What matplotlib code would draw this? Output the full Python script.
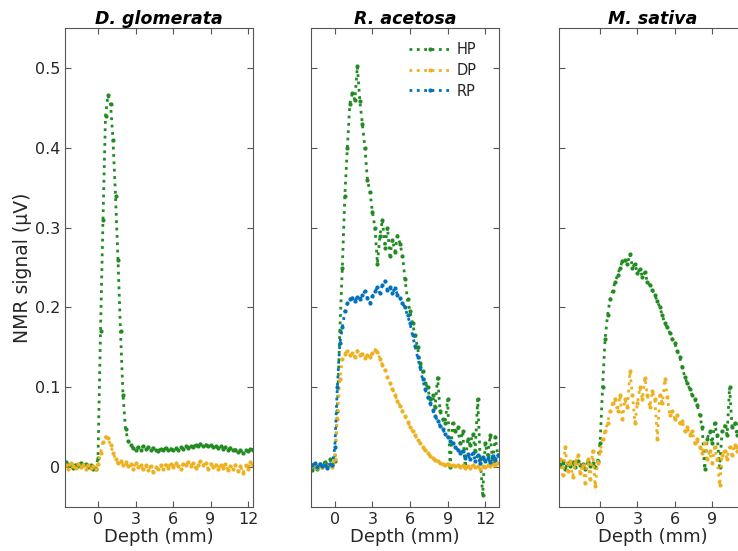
import numpy as np
import matplotlib
matplotlib.use("Agg")
import matplotlib.pyplot as plt

plt.rcParams['font.family'] = ['DejaVu Sans']

titles = ["D. glomerata", "R. acetosa", "M. sativa"]
series_names = ["HP", "DP", "RP"]
colors = {"HP": "#228B22", "DP": "#EDB120", "RP": "#0072BD"}

x_ticks = [0, 3, 6, 9, 12]
y_ticks = [0, 0.1, 0.2, 0.3, 0.4, 0.5]
y_tick_labels = ["0", "0.1", "0.2", "0.3", "0.4", "0.5"]

# Depth grids (mm)
depth_dg = np.round(np.arange(-2.6, 12.41, 0.2), 2)
depth_ra = np.round(np.arange(-1.8, 13.01, 0.2), 2)
depth_ms = np.round(np.arange(-3.2, 11.81, 0.2), 2)

# D. glomerata
dg_hp = [0.006, 0.002, 0.004, -0.001, 0.003, 0.001, 0.005, 0.002, 0.004, 0.000, 0.003, -0.002, -0.003,
         0.012, 0.17, 0.31, 0.44, 0.466, 0.455, 0.41, 0.34, 0.26, 0.17, 0.09, 0.048, 0.033, 0.028,
         0.024, 0.021, 0.025, 0.022, 0.026, 0.023, 0.025, 0.021, 0.024, 0.022, 0.020, 0.023, 0.021,
         0.024, 0.022, 0.023, 0.021, 0.024, 0.022, 0.025, 0.023, 0.026, 0.024, 0.027, 0.025, 0.028,
         0.026, 0.029, 0.027, 0.028, 0.026, 0.028, 0.025, 0.027, 0.024, 0.026, 0.023, 0.025, 0.022,
         0.024, 0.021, 0.022, 0.019, 0.021, 0.018, 0.021, 0.020, 0.023, 0.022]
dg_dp = [0.003, -0.002, 0.005, 0.001, -0.001, 0.004, 0.000, 0.003, -0.002, 0.002, -0.001, 0.001, -0.002,
         0.004, 0.018, 0.032, 0.038, 0.036, 0.028, 0.018, 0.010, 0.005, 0.008, 0.003, 0.006, 0.001, 0.004,
         -0.002, 0.005, 0.000, 0.003, -0.003, 0.002, -0.004, 0.001, -0.006, 0.000, -0.003, 0.002, -0.002,
         0.003, -0.001, 0.004, 0.000, 0.005, 0.001, -0.002, 0.004, 0.002, 0.006, 0.001, 0.005, -0.001,
         0.003, 0.007, 0.002, 0.005, -0.002, 0.004, 0.000, 0.003, -0.003, 0.002, -0.001, 0.004, -0.004,
         0.001, -0.002, 0.003, -0.005, 0.001, -0.008, 0.002, -0.003, 0.006, 0.002]

# R. acetosa
ra_hp = [-0.004, 0.002, -0.002, 0.004, 0.000, 0.006, 0.001, 0.010, 0.003,
         0.008, 0.07, 0.17, 0.25, 0.34, 0.40, 0.455, 0.468, 0.460, 0.502, 0.458, 0.43, 0.40, 0.36,
         0.345, 0.32, 0.30, 0.255, 0.29, 0.31, 0.275, 0.30, 0.265, 0.285, 0.27, 0.29, 0.28, 0.265,
         0.235, 0.21, 0.195, 0.18, 0.165, 0.15, 0.13, 0.12, 0.105, 0.10, 0.085, 0.09, 0.075, 0.112,
         0.07, 0.06, 0.055, 0.085, 0.00, 0.055, 0.045, 0.05, 0.03, 0.045, 0.0, 0.035, 0.028, 0.042,
         0.02, 0.085, 0.01, -0.035, 0.03, 0.015, 0.04, 0.005, 0.038, 0.015]
ra_dp = [0.001, 0.003, -0.001, 0.002, 0.000, 0.003, 0.001, 0.002, 0.000,
         0.01, 0.06, 0.11, 0.135, 0.142, 0.145, 0.14, 0.143, 0.138, 0.146, 0.14, 0.142, 0.137, 0.14,
         0.138, 0.143, 0.147, 0.144, 0.136, 0.128, 0.122, 0.113, 0.105, 0.098, 0.09, 0.083, 0.077,
         0.07, 0.064, 0.057, 0.05, 0.045, 0.04, 0.034, 0.03, 0.025, 0.021, 0.018, 0.014, 0.011,
         0.009, 0.007, 0.005, 0.004, 0.003, 0.004, 0.002, 0.003, 0.001, 0.002, 0.000, 0.002, -0.001,
         0.001, -0.001, 0.002, 0.000, 0.001, -0.002, 0.001, 0.000, 0.003, 0.001, 0.004, 0.002, 0.005]
ra_rp = [0.002, 0.005, 0.000, 0.004, 0.001, 0.003, -0.001, 0.004, 0.002,
         0.025, 0.10, 0.155, 0.175, 0.195, 0.205, 0.21, 0.212, 0.208, 0.213, 0.21, 0.216, 0.22,
         0.212, 0.205, 0.214, 0.22, 0.225, 0.218, 0.228, 0.233, 0.222, 0.226, 0.218, 0.224, 0.216,
         0.212, 0.205, 0.20, 0.19, 0.18, 0.165, 0.152, 0.138, 0.125, 0.11, 0.098, 0.088, 0.08,
         0.072, 0.064, 0.058, 0.052, 0.048, 0.042, 0.038, 0.033, 0.03, 0.025, 0.022, 0.018, 0.02,
         0.012, 0.016, 0.01, 0.018, 0.008, 0.015, 0.005, 0.013, 0.008, 0.012, 0.006, 0.014, 0.009, 0.015]

# M. sativa
ms_hp = [0.002, 0.008, -0.002, 0.005, 0.001, 0.006, 0.000, 0.008, 0.002, 0.004, -0.002, 0.006, 0.001,
         0.005, 0.000, 0.007,
         0.03, 0.10, 0.16, 0.19, 0.21, 0.22, 0.232, 0.24, 0.25, 0.258, 0.26, 0.255, 0.267, 0.25,
         0.255, 0.243, 0.248, 0.238, 0.244, 0.232, 0.228, 0.222, 0.215, 0.208, 0.20, 0.19, 0.18,
         0.175, 0.168, 0.16, 0.155, 0.145, 0.138, 0.125, 0.113, 0.105, 0.098, 0.09, 0.085, 0.078,
         0.065, 0.05, -0.003, 0.035, 0.045, 0.03, 0.055, 0.04, 0.0, 0.045, 0.052, 0.04, 0.10, 0.05,
         0.055, 0.04, 0.06, 0.045, 0.065, 0.05]
ms_dp = [0.01, -0.01, 0.025, -0.005, 0.008, -0.012, 0.005, 0.015, -0.008, 0.003, -0.02, 0.01, -0.015,
         0.02, -0.024, 0.005,
         0.02, 0.035, 0.045, 0.055, 0.07, 0.08, 0.085, 0.07, 0.09, 0.06, 0.085, 0.075, 0.12, 0.09,
         0.055, 0.08, 0.1, 0.085, 0.112, 0.09, 0.075, 0.095, 0.085, 0.035, 0.09, 0.08, 0.11, 0.088,
         0.065, 0.07, 0.06, 0.065, 0.055, 0.058, 0.045, 0.05, 0.04, 0.045, 0.03, 0.035, 0.025, 0.018,
         0.03, 0.01, 0.02, 0.005, 0.025, 0.01, -0.023, 0.015, 0.02, 0.01, 0.025, 0.015, 0.028, 0.02,
         0.03, 0.015, 0.025, 0.02]

panels = [
    (depth_dg, {"HP": dg_hp, "DP": dg_dp}, (-2.64, 12.4), x_ticks),
    (depth_ra, {"HP": ra_hp, "DP": ra_dp, "RP": ra_rp}, (-1.9, 13.1), x_ticks),
    (depth_ms, {"HP": ms_hp, "DP": ms_dp}, (-3.3, 11.8), x_ticks[:-1]),
]

fig = plt.figure(figsize=(7.38, 5.51), dpi=100)
lefts = [65 / 738, 311 / 738, 559 / 738]
width = 188 / 738
bottom = 1 - 507 / 551
height = (507 - 28) / 551
text_color = "#262626"
spine_color = "#555555"

for i, (depth, data, xl, xt) in enumerate(panels):
    ax = fig.add_axes([lefts[i], bottom, width, height])
    for name in series_names:
        if name in data:
            ax.plot(depth, data[name], linestyle=":", marker=".", markersize=4,
                    linewidth=2.0, color=colors[name], label=name)
    ax.set_xlim(*xl)
    ax.set_ylim(-0.05, 0.55)
    ax.set_xticks(xt)
    ax.set_yticks(y_ticks)
    if i == 0:
        ax.set_yticklabels(y_tick_labels)
        ax.set_ylabel("NMR signal (μV)", fontsize=13.5, color=text_color, labelpad=2)
    else:
        ax.set_yticklabels([])
    ax.tick_params(direction="in", top=True, right=True, length=4, width=0.8,
                   labelsize=11.5, colors=spine_color, labelcolor=text_color)
    for s in ax.spines.values():
        s.set_color(spine_color)
        s.set_linewidth(0.8)
    ax.set_xlabel("Depth (mm)", fontsize=13, color=text_color, labelpad=1)
    ax.set_title(titles[i], fontsize=12.5, fontweight="bold", fontstyle="italic",
                 color="black", pad=3)
    if i == 1:
        leg = ax.legend(loc="upper right", bbox_to_anchor=(0.895, 0.977), frameon=False,
                        fontsize=10.5, handlelength=2.9, handletextpad=0.35,
                        labelspacing=0.4, borderaxespad=0.0, borderpad=0.2,
                        markerscale=1.0)
        for t in leg.get_texts():
            t.set_color(text_color)

fig.savefig("out.png", dpi=100)
